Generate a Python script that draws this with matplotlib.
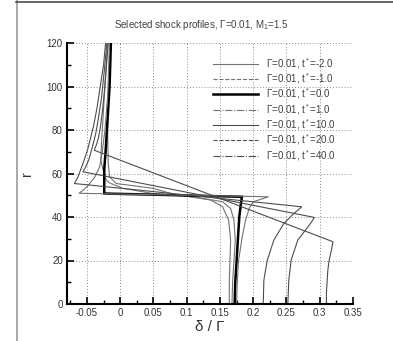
import matplotlib
matplotlib.use("Agg")
import matplotlib.pyplot as plt
from matplotlib.lines import Line2D
from matplotlib.ticker import MultipleLocator

plt.rcParams['font.family'] = ['Liberation Sans', 'DejaVu Sans']
plt.rcParams['mathtext.fontset'] = 'custom'
plt.rcParams['mathtext.rm'] = 'Liberation Sans'
plt.rcParams['mathtext.it'] = 'Liberation Sans'

# shock profiles, delta/Gamma against r
times = ['-2.0', '-1.0', '0.0', '1.0', '10.0', '20.0', '40.0']

r_m2 = [0, 10, 20, 29.4, 38.6, 44.7, 47.8, 49.5, 50.8, 53.2, 55.5, 57, 62, 66, 75, 85, 100, 120]
d_m2 = [0.164, 0.164, 0.165, 0.166, 0.163, 0.154, 0.136, 0.10, 0.049, 0.004, -0.015, -0.021,
        -0.026, -0.029, -0.028, -0.026, -0.023, -0.019]

r_m1 = [0, 10, 20, 29.4, 38.6, 43.9, 47, 48.8, 50.5, 53.2, 55.4, 58.5, 64.6, 80, 100, 120]
d_m1 = [0.168, 0.169, 0.171, 0.173, 0.171, 0.166, 0.154, 0.12, 0.08, 0.049, -0.006, -0.016,
        -0.018, -0.019, -0.017, -0.015]

r_0 = [0, 10, 20, 30, 40, 45, 49.3, 50.8, 62, 70, 85, 100, 120]
d_0 = [0.172, 0.173, 0.175, 0.177, 0.179, 0.181, 0.183, -0.024, -0.024, -0.022, -0.019, -0.016, -0.014]

r_p1 = [0, 10, 20, 30, 38, 44, 47, 49.3, 50.9, 52.5, 54.6, 58.5, 63, 70, 80, 95, 120]
d_p1 = [0.175, 0.176, 0.178, 0.183, 0.188, 0.194, 0.200, 0.223, -0.062, -0.055, -0.048, -0.038,
        -0.031, -0.027, -0.023, -0.019, -0.016]

r_10 = [0, 11, 20, 29.4, 37, 41.6, 44.7, 55.4, 58, 64.6, 71, 77, 82, 90, 100, 110, 120]
d_10 = [0.215, 0.216, 0.221, 0.231, 0.246, 0.261, 0.273, -0.069, -0.064, -0.056, -0.049, -0.044,
        -0.040, -0.035, -0.030, -0.025, -0.022]

r_20 = [0, 11, 20.2, 29.4, 37, 39.8, 60.8, 63, 66.5, 72, 78, 85, 95, 107, 120]
d_20 = [0.252, 0.2535, 0.257, 0.267, 0.286, 0.292, -0.056, -0.052, -0.047, -0.042, -0.037,
        -0.033, -0.028, -0.024, -0.020]

r_40 = [0, 5, 10, 15, 20, 24, 28.6, 70.7, 73, 76, 81, 88, 97, 108, 120]
d_40 = [0.310, 0.310, 0.311, 0.312, 0.314, 0.317, 0.320, -0.039, -0.036, -0.033, -0.030, -0.027,
        -0.024, -0.021, -0.018]

profiles = [(d_m2, r_m2), (d_m1, r_m1), (d_0, r_0), (d_p1, r_p1),
            (d_10, r_10), (d_20, r_20), (d_40, r_40)]

# legend styles (the curves themselves look solid in the original)
styles = [('-', 0.8, '0.45'), ('--', 0.8, '0.45'), ('-', 1.8, 'black'), ('-.', 0.8, '0.45'),
          ('-', 0.8, '0.3'), ('--', 0.8, '0.3'), ('-.', 0.8, '0.3')]

fig = plt.figure(figsize=(3.93, 3.41), dpi=100)
ax = fig.add_axes([67 / 393, 37 / 341, 286 / 393, 261 / 341])

for (d, r), (ls, lw, col) in zip(profiles, styles):
    ax.plot(d, r, color=col, lw=lw, solid_joinstyle='miter')

ax.set_xlim(-0.08, 0.35)
ax.set_ylim(0, 120)
ax.xaxis.set_minor_locator(MultipleLocator(0.025))
ax.yaxis.set_major_locator(MultipleLocator(20))
ax.yaxis.set_minor_locator(MultipleLocator(10))
ax.set_xticks([-0.05, 0, 0.05, 0.1, 0.15, 0.2, 0.25, 0.3, 0.35])
ax.set_xticklabels(['-0.05', '0', '0.05', '0.1', '0.15', '0.2', '0.25', '0.3', '0.35'])
ax.grid(True, which='major', color='0.55', ls=(0, (1, 2)), lw=0.7)
ax.set_axisbelow(True)
ax.tick_params(which='major', direction='in', length=5, width=1.2, labelsize=7, pad=3,
               labelcolor='0.2')
ax.tick_params(which='minor', direction='in', length=3, width=1.0)
ax.spines['top'].set_visible(False)
ax.spines['right'].set_visible(False)
ax.spines['left'].set_linewidth(1.5)
ax.spines['bottom'].set_linewidth(1.5)

ax.set_xlabel('δ / Γ', fontsize=11, labelpad=1, color='0.2')
ax.set_ylabel('r', fontsize=10, labelpad=9, color='0.2')
fig.text(0.5 * (111 + 292) / 393, 1 - 25 / 341, 'Selected shock profiles, Γ=0.01, M$_1$=1.5',
         ha='center', va='center', fontsize=7, color='0.25')

handles = [Line2D([], [], ls=ls, lw=lw, color=col) for ls, lw, col in styles]
labels = ['Γ=0.01, t$^*$=' + t for t in times]
leg = ax.legend(handles, labels, loc='upper left', bbox_to_anchor=(213 / 393, 1 - 56 / 341),
                bbox_transform=fig.transFigure, frameon=False, fontsize=7, borderpad=0,
                borderaxespad=0, labelspacing=0.05, handlelength=4.6, handletextpad=0.9)
for txt in leg.get_texts():
    txt.set_color('0.25')

# page frame lines seen in the picture
fig.add_artist(Line2D([16.5 / 393, 16.5 / 393], [0, 1], color='0.6', lw=1.2))
fig.add_artist(Line2D([16 / 393, 1], [1 - 1.5 / 341, 1 - 1.5 / 341], color='0.3', lw=1.2))

fig.savefig('out.png', dpi=100)
